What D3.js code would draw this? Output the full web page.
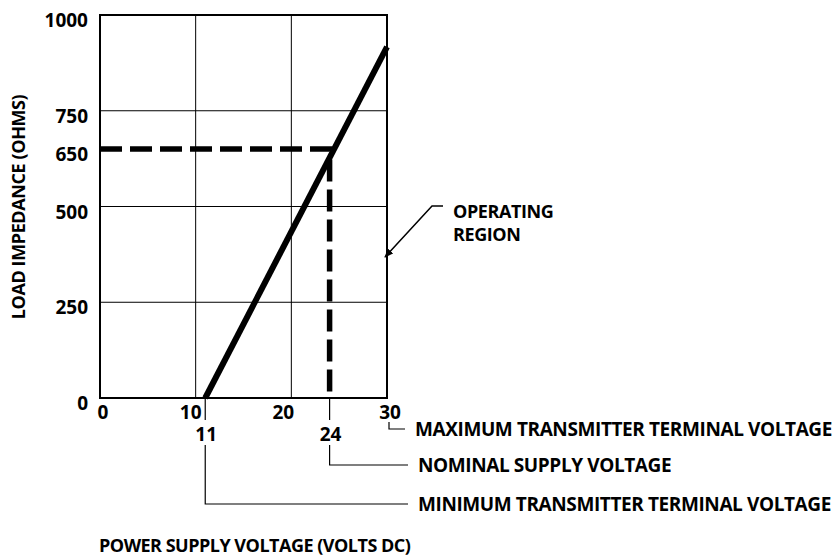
<!DOCTYPE html>
<html>
<head>
<meta charset="utf-8">
<script src="https://cdn.jsdelivr.net/npm/d3@7"></script>
<style>
    body { margin: 0; background: #fff; }
    svg text { font-family: "Open Sans", sans-serif; font-weight: 700; fill: #000; }
</style>
</head>
<body>
<svg id="chart" width="836" height="556"></svg>
<script>
// chart data
const xTicks = [0, 10, 20, 30];
const yTicks = [0, 250, 500, 750, 1000];
const xMarks = [11, 24];
const yMarks = [650];
const loadLine = [{ volts: 11, ohms: 0 }, { volts: 30, ohms: 917 }];
const nominalPoint = { volts: 24, ohms: 650 };
const calloutVolts = [30, 24, 11];
const calloutLabels = ["MAXIMUM TRANSMITTER TERMINAL VOLTAGE", "NOMINAL SUPPLY VOLTAGE", "MINIMUM TRANSMITTER TERMINAL VOLTAGE"];
const regionLabel = ["OPERATING", "REGION"];

let svg = d3.select("#chart");

let x = d3.scaleLinear().domain([0, 30]).range([100, 387]);
let y = d3.scaleLinear().domain([0, 1000]).range([398, 15]);

// grid
svg.append("g")
    .selectAll("line")
    .data(xTicks.slice(1, -1))
    .enter()
    .append("line")
    .attr("x1", d => x(d)).attr("x2", d => x(d))
    .attr("y1", y(0)).attr("y2", y(1000))
    .attr("stroke", "#000").attr("stroke-width", 1);

svg.append("g")
    .selectAll("line")
    .data(yTicks.slice(1, -1))
    .enter()
    .append("line")
    .attr("x1", x(0)).attr("x2", x(30))
    .attr("y1", d => y(d)).attr("y2", d => y(d))
    .attr("stroke", "#000").attr("stroke-width", 1);

// frame
svg.append("rect")
    .attr("x", x(0)).attr("y", y(1000))
    .attr("width", x(30) - x(0)).attr("height", y(0) - y(1000))
    .attr("fill", "none").attr("stroke", "#000").attr("stroke-width", 2);

// y tick labels
svg.append("g")
    .selectAll("text")
    .data(yTicks.concat(yMarks))
    .enter()
    .append("text")
    .attr("x", 88)
    .attr("y", d => y(d) + 12)
    .attr("text-anchor", "end")
    .style("font-size", "19px")
    .text(d => d);

// x tick labels
const xNudge = { 0: 3, 10: -5, 20: -8, 30: 3 };
svg.append("g")
    .selectAll("text")
    .data(xTicks)
    .enter()
    .append("text")
    .attr("x", d => x(d) + xNudge[d])
    .attr("y", 419)
    .attr("text-anchor", "middle")
    .style("font-size", "19px")
    .text(d => d);

svg.append("g")
    .selectAll("text")
    .data(xMarks)
    .enter()
    .append("text")
    .attr("x", d => x(d) + 1)
    .attr("y", 441)
    .attr("text-anchor", "middle")
    .style("font-size", "19px")
    .text(d => d);

// short ticks under the axis for 11 and 24
svg.append("g")
    .selectAll("line")
    .data(xMarks)
    .enter()
    .append("line")
    .attr("x1", d => x(d)).attr("x2", d => x(d))
    .attr("y1", y(0)).attr("y2", 420)
    .attr("stroke", "#000").attr("stroke-width", 1.2);

// dashed nominal lines
svg.append("path")
    .attr("d", `M${x(0)},${y(nominalPoint.ohms)}H${x(nominalPoint.volts)}V${y(0)}`)
    .attr("fill", "none")
    .attr("stroke", "#000")
    .attr("stroke-width", 5.5)
    .attr("stroke-dasharray", "22,8");

// load line
let line = d3.line().x(d => x(d.volts)).y(d => y(d.ohms));
svg.append("path")
    .datum(loadLine)
    .attr("d", line)
    .attr("fill", "none")
    .attr("stroke", "#000")
    .attr("stroke-width", 6);

// callouts below the axis
const calloutY = [429, 465, 504];
const calloutTop = [422, 445, 445];
const calloutEnd = [405, 408, 408];
calloutVolts.forEach((v, i) => {
    let cx = x(v) + (i == 0 ? 2 : 0);
    svg.append("path")
        .attr("d", `M${cx},${calloutTop[i]}V${calloutY[i]}H${calloutEnd[i]}`)
        .attr("fill", "none")
        .attr("stroke", "#000")
        .attr("stroke-width", 1.2);
    svg.append("text")
        .attr("x", calloutEnd[i] + 10)
        .attr("y", calloutY[i] + 7)
        .style("font-size", "19px")
        .style("letter-spacing", "-0.4px")
        .text(calloutLabels[i]);
});

// operating region label and arrow
svg.append("defs").append("marker")
    .attr("id", "arrow")
    .attr("viewBox", "0 0 10 10")
    .attr("refX", 9).attr("refY", 5)
    .attr("markerWidth", 6).attr("markerHeight", 6)
    .attr("markerUnits", "strokeWidth")
    .attr("orient", "auto")
    .append("path")
    .attr("d", "M0,1L10,5L0,9z")
    .attr("fill", "#000");

svg.append("path")
    .attr("d", "M443,206H432L385,257")
    .attr("fill", "none")
    .attr("stroke", "#000")
    .attr("stroke-width", 1.5)
    .attr("marker-end", "url(#arrow)");

svg.append("g")
    .selectAll("text")
    .data(regionLabel)
    .enter()
    .append("text")
    .attr("x", 453)
    .attr("y", (d, i) => 218 + i * 23)
    .style("font-size", "18px")
    .style("letter-spacing", "-0.4px")
    .text(d => d);

// axis titles
svg.append("text")
    .attr("transform", "translate(25,207) rotate(-90)")
    .attr("text-anchor", "middle")
    .style("font-size", "18px")
    .style("letter-spacing", "-0.4px")
    .text("LOAD IMPEDANCE (OHMS)");

svg.append("text")
    .attr("x", 99)
    .attr("y", 552)
    .style("font-size", "18px")
    .style("letter-spacing", "-0.5px")
    .text("POWER SUPPLY VOLTAGE (VOLTS DC)");
</script>
</body>
</html>
